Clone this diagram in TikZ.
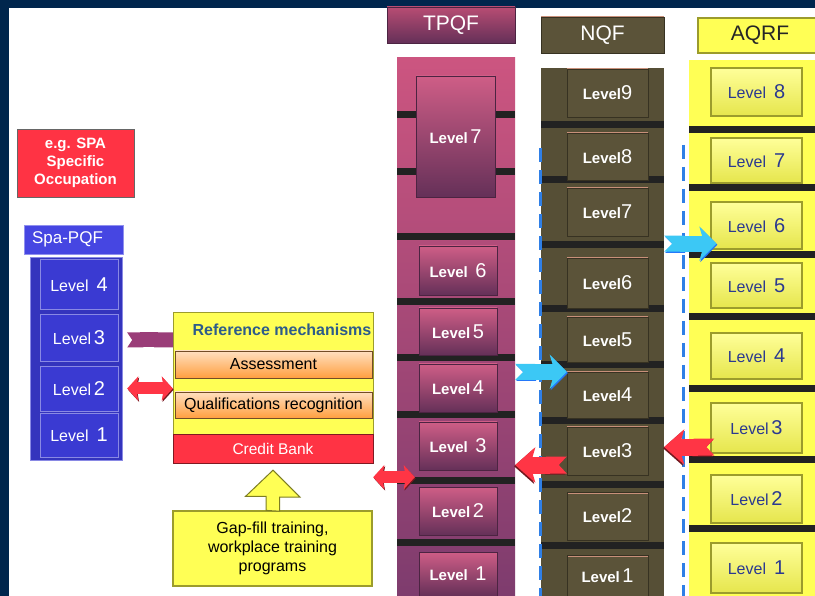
\documentclass[tikz,border=0pt]{standalone}
\usepackage{fontspec}
\setmainfont{Liberation Sans}
\usepackage{xcolor}
\usetikzlibrary{arrows.meta}

\definecolor{navybg}{HTML}{00264D}
\definecolor{occred}{HTML}{FF3344}
\definecolor{spablue}{HTML}{3A3AD2}
\definecolor{spahd}{HTML}{4646E2}
\definecolor{tptop}{HTML}{CC5580}
\definecolor{tpbot}{HTML}{7E3C6E}
\definecolor{nqbrown}{HTML}{5B5339}
\definecolor{nqline}{HTML}{C8907A}
\definecolor{aqyel}{HTML}{FFFF55}
\definecolor{aqedge}{HTML}{9C9C2C}
\definecolor{aqtext}{HTML}{2B3990}
\definecolor{reftext}{HTML}{2D5C8A}
\definecolor{sepbar}{HTML}{222222}
\definecolor{dashblue}{HTML}{2F7FE6}
\definecolor{arrred}{HTML}{FF3545}
\definecolor{arrcyan}{HTML}{3CC8F5}
\definecolor{ribbonc}{HTML}{9A3D78}

\newcommand{\lvnum}[1]{{\fontsize{20}{20}\mdseries\selectfont #1}}

\begin{document}
\begin{tikzpicture}[x=1pt, y=-1pt,
  hdr/.style={rectangle, inner sep=0pt, minimum height=36pt,
    font=\fontsize{21}{21}\selectfont},
  col/.style={rectangle, inner sep=0pt},
  spalvl/.style={rectangle, inner sep=0pt, fill=spablue, draw=spablue!60!white,
    minimum width=78pt, text=white, font=\fontsize{16}{16}\selectfont},
  tplvl/.style={rectangle, inner sep=0pt, top color=tptop!95!white, bottom color=tpbot!80!black,
    draw=tpbot!60!black, minimum width=78pt, minimum height=48pt, text=white,
    font=\fontsize{15}{15}\selectfont\bfseries},
  nqlvl/.style={rectangle, inner sep=0pt, fill=nqbrown, draw=nqbrown!60!black,
    minimum width=81pt, minimum height=48pt, text=white,
    font=\fontsize{15}{15}\selectfont\bfseries,
    path picture={\draw[line width=3pt, nqline] (path picture bounding box.north west)
      -- (path picture bounding box.north east);}},
  aqlvl/.style={rectangle, inner sep=0pt, top color=aqyel!60!white, bottom color=aqyel!90!black,
    draw=aqedge, line width=1.2pt, minimum width=91pt, minimum height=48pt, text=aqtext,
    font=\fontsize{16}{16}\selectfont},
  bar/.style={rectangle, inner sep=0pt, minimum width=197pt, minimum height=27pt,
    top color=orange!25!white, bottom color=orange!75!white, draw=brown!60!black,
    font=\fontsize{16}{16}\selectfont},
  redarr/.style={line width=17pt, draw=arrred,
    preaction={draw=arrred!45!black, transform canvas={shift={(-1.2pt,-1.2pt)}}},
    {Triangle Cap[reversed, length=8pt]}-{Stealth[length=20pt, width=35pt, inset=5pt]}},
  cyanarr/.style={line width=16pt, draw=arrcyan,
    preaction={draw=arrcyan!60!blue, transform canvas={shift={(1pt,-1.2pt)}}},
    {Triangle Cap[reversed, length=8pt]}-{Stealth[length=17pt, width=34pt, inset=5pt]}},
  dblarr/.style={line width=12pt, draw=arrred,
    preaction={draw=arrred!45!black, transform canvas={shift={(0.8pt,-1.2pt)}}},
    {Stealth[length=11pt, width=24pt, inset=2pt]}-{Stealth[length=11pt, width=24pt, inset=2pt]}},
  ribbon/.style={line width=15pt, draw=ribbonc, {Triangle Cap[reversed, length=5pt]}-{Butt Cap}},
  dashline/.style={dashblue, line width=3pt, dash pattern=on 14pt off 8pt}
]
  \useasboundingbox (0,0) rectangle (815,596);
  \fill[navybg] (0,0) rectangle (815,596);
  \fill[white] (9,8) rectangle (815,596);

  % Spa side
  \node[rectangle, inner sep=0pt, fill=occred, draw=black!60, minimum width=117pt, minimum height=68pt,
    text=white, align=center, font=\fontsize{15}{18}\selectfont\bfseries] (occ) at (75.5,163)
    {e.g. SPA\\Specific\\Occupation};
  \node[rectangle, inner sep=0pt, fill=spahd, draw=spahd!60!white, minimum width=99pt, minimum height=29pt,
    text=white, font=\fontsize{17}{17}\selectfont] (spahdr) at (73.5,239.5) {\hspace*{-12pt}Spa-PQF};
  \node[col, fill=spablue!90!black, draw=spablue!60!white, minimum width=92pt, minimum height=203pt]
    (spacol) at (76,358.5) {};
  \node[spalvl, minimum height=50pt] (spa4) at (79,284.5) {Level\enspace\lvnum{4}};
  \node[spalvl, minimum height=47pt] (spa3) at (79,337.5) {Level\,\lvnum{3}};
  \node[spalvl, minimum height=45pt] (spa2) at (79,388.5) {Level\,\lvnum{2}};
  \node[spalvl, minimum height=44pt] (spa1) at (79,435) {Level\enspace\lvnum{1}};

  % reference mechanisms
  \node[col, fill=aqyel, draw=aqedge, minimum width=200pt, minimum height=151pt] (ref) at (273,387.5) {};
  \node[text=reftext, font=\fontsize{16}{16}\selectfont\bfseries] (reftitle) at (282,330) {Reference mechanisms};
  \node[bar] (assess) at (273.5,364.5) {Assessment};
  \node[bar, minimum height=26pt] (qualrec) at (273.5,405) {Qualifications recognition};
  \node[rectangle, inner sep=0pt, fill=occred, draw=occred!50!black, minimum width=200pt, minimum height=29pt,
    text=white, font=\fontsize{15.5}{15.5}\selectfont] (credit) at (273,448.5) {Credit Bank};
  \node[rectangle, inner sep=0pt, fill=aqyel, draw=aqedge, line width=1.2pt, minimum width=199pt,
    minimum height=75pt, align=center, font=\fontsize{16}{19}\selectfont] (gap) at (272.5,548.5)
    {Gap-fill training,\\workplace training\\programs};

  % TPQF
  \node[hdr, top color=tptop!90!black, bottom color=tpbot!80!black, draw=tpbot!60!black,
    minimum width=128pt, text=white] (tpqfhdr) at (451,25) {TPQF};
  \shade[top color=tptop, bottom color=tpbot] (397,58) rectangle (515,596);
  \node[col, minimum width=118pt, minimum height=538pt] (tpqfcol) at (456,327) {};
  \foreach \y in {115,172,237,302,358,415,480,542}
    \fill[sepbar] (tpqfcol.west |- 0,\y-3.5) rectangle (tpqfcol.east |- 0,\y+3.5);
  \node[tplvl, minimum width=79pt, minimum height=121pt] (tp7) at (455.5,136.5) {Level\,\lvnum{7}};
  \node[tplvl, minimum height=49pt] (tp6) at (458,270.5) {Level\enspace\lvnum{6}};
  \node[tplvl, minimum height=47pt] (tp5) at (458,331.5) {Level\,\lvnum{5}};
  \node[tplvl] (tp4) at (458,388) {Level\,\lvnum{4}};
  \node[tplvl] (tp3) at (458,446) {Level\enspace\lvnum{3}};
  \node[tplvl] (tp2) at (458,511) {Level\,\lvnum{2}};
  \node[tplvl, minimum height=44pt] (tp1) at (458,574) {Level\enspace\lvnum{1}};

  % NQF
  \node[hdr, fill=nqbrown, draw=nqbrown!60!black, minimum width=123pt, text=white,
    path picture={\draw[line width=2pt, nqline] (path picture bounding box.north west)
      -- (path picture bounding box.north east);}] (nqfhdr) at (602.5,35) {NQF};
  \node[col, fill=nqbrown!95!black, minimum width=123pt, minimum height=528pt] (nqfcol) at (602.5,332) {};
  \foreach \y in {125,180,245,309,365,421,484,545}
    \fill[sepbar] (nqfcol.west |- 0,\y-3.5) rectangle (nqfcol.east |- 0,\y+3.5);
  \node[nqlvl] (nq9) at (607.5,93) {Level\lvnum{9}};
  \node[nqlvl, minimum height=47pt] (nq8) at (607.5,156.5) {Level\lvnum{8}};
  \node[nqlvl] (nq7) at (607.5,212) {Level\lvnum{7}};
  \node[nqlvl, minimum height=50pt] (nq6) at (607.5,283) {Level\lvnum{6}};
  \node[nqlvl, minimum height=45pt] (nq5) at (607.5,339.5) {Level\lvnum{5}};
  \node[nqlvl, minimum height=46pt] (nq4) at (607.5,395) {Level\lvnum{4}};
  \node[nqlvl] (nq3) at (607.5,451) {Level\lvnum{3}};
  \node[nqlvl] (nq2) at (607.5,516) {Level\lvnum{2}};
  \node[nqlvl, minimum height=41pt] (nq1) at (607.5,575.5) {Level\,\lvnum{1}};

  % AQRF
  \node[hdr, fill=aqyel, draw=aqedge, line width=1.2pt, minimum width=124pt, minimum height=35pt,
    text=black!85] (aqhdr) at (760,35.5) {AQRF};
  \node[col, fill=aqyel, minimum width=126pt, minimum height=536pt] (aqcol) at (752,328) {};
  \foreach \y in {130,188,255,317,389,459,528}
    \fill[sepbar] (aqcol.west |- 0,\y-3.5) rectangle (aqcol.east |- 0,\y+3.5);
  \node[aqlvl] (aq8) at (756.5,92) {Level\enspace\lvnum{8}};
  \node[aqlvl, minimum height=45pt] (aq7) at (756.5,160.5) {Level\enspace\lvnum{7}};
  \node[aqlvl, minimum height=47pt] (aq6) at (756.5,225.5) {Level\enspace\lvnum{6}};
  \node[aqlvl, minimum height=45pt] (aq5) at (756.5,285.5) {Level\enspace\lvnum{5}};
  \node[aqlvl, minimum height=46pt] (aq4) at (756.5,356) {Level\enspace\lvnum{4}};
  \node[aqlvl, minimum height=50pt] (aq3) at (756.5,428) {Level\,\lvnum{3}};
  \node[aqlvl] (aq2) at (756.5,499) {Level\,\lvnum{2}};
  \node[aqlvl, minimum height=50pt] (aq1) at (756.5,568) {Level\enspace\lvnum{1}};

  % dashed borders
  \draw[dashline] (nqfcol.west |- 0,148) -- (nqfcol.west |- 0,596);
  \draw[dashline] (683,145) -- (683,596);

  % links
  \draw[ribbon, shorten <=9pt] ([yshift=-2.5pt]spa3.east) -- ([yshift=-2.5pt]spa3.east -| ref.west);
  \draw[dblarr, shorten <=9pt] (spa2.east) -- (spa2.east -| ref.west);
  \draw[dblarr] ([yshift=-14pt]ref.south east) -- ([xshift=-4pt, yshift=-7pt]tp3.south west);
  \filldraw[fill=aqyel, draw=aqedge!80!black, line width=1pt]
    ([xshift=-6.5pt]gap.north) -- ++(0,-14) -- ++(-20.5,0) -- ([yshift=-7pt]credit.south)
    -- ++(27,27) -- ++(-20.5,0) -- ++(0,14) -- cycle;
  \draw[cyanarr] (tpqfcol.east |- nq4.north west) -- (nq4.north west);
  \draw[redarr] ([yshift=-14pt]nq3.west) -- ([yshift=-14pt]nq3.west -| tpqfcol.east);
  \draw[cyanarr] (nqfcol.east |- aq6.south west) ++(0,-6) -- ([xshift=6pt, yshift=6pt]aq6.south west);
  \draw[redarr] ([xshift=4pt, yshift=-19pt]aq3.west) -- ([yshift=-19pt]aq3.west -| nqfcol.east);
\end{tikzpicture}
\end{document}
